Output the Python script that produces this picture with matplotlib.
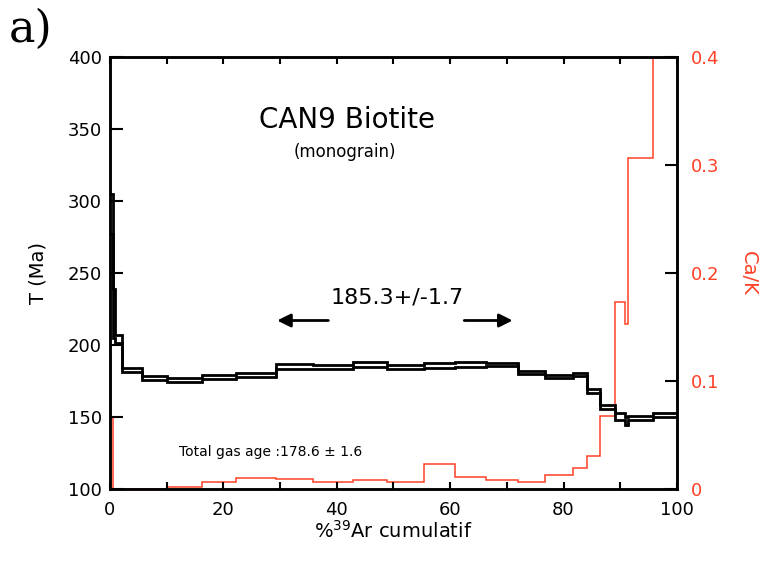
import matplotlib
matplotlib.use('Agg')
import matplotlib.pyplot as plt
import numpy as np

# Step boundaries (% 39Ar cumulative)
edges = [0, 0.5, 0.9, 2.2, 5.6, 10.0, 16.2, 22.3, 29.3, 35.8, 42.8, 48.8, 55.3,
         60.8, 66.4, 72.0, 76.7, 81.6, 84.2, 86.4, 89.1, 90.8, 91.4, 95.8, 100]
# Apparent ages (Ma) and 1-sigma errors for each step
ages = [291, 222, 204, 182.8, 177.1, 175.5, 177.7, 179.2, 185.2, 184.6, 186.5, 184.8,
        185.6, 186.6, 186.3, 180.6, 178.3, 179.8, 167.8, 156.8, 150.2, 147.1, 149.3, 151.4]
errors = [14, 17, 2.9, 1.4, 1.4, 1.4, 1.5, 1.6, 1.6, 1.5, 1.5, 1.5,
          1.6, 1.6, 1.0, 1.0, 1.0, 1.0, 1.4, 1.5, 2.3, 2.7, 1.4, 1.6]
# Ca/K ratio per step
ca_k = [0.0664, 0, 0, 0, 0, 0.002, 0.0062, 0.0099, 0.009, 0.0062, 0.0086, 0.0068,
        0.0235, 0.0108, 0.0083, 0.0065, 0.013, 0.019, 0.031, 0.0676, 0.173, 0.153, 0.306, 0.5]

plateau_text = '185.3+/-1.7'
total_gas_text = 'Total gas age :178.6 ± 1.6'

plt.rcParams['font.family'] = 'DejaVu Sans'
red = '#ff4024'

fig = plt.figure(figsize=(7.59, 5.64), dpi=100)
ax = fig.add_axes([0.1449, 0.133, 0.747, 0.766])
ax2 = ax.twinx()

ages = np.array(ages)
errors = np.array(errors)
ax.stairs(ages + errors, edges, baseline=None, color='black', lw=2.0, zorder=3)
ax.stairs(ages - errors, edges, baseline=None, color='black', lw=2.0, zorder=3)
ax.set_zorder(ax2.get_zorder() + 1)
ax.patch.set_visible(False)

ax2.stairs(ca_k, edges, baseline=None, color=red, lw=1.1)

ax.set_xlim(0, 100)
ax.set_ylim(100, 400)
ax2.set_ylim(0, 0.4)

ax.set_xticks(np.arange(0, 101, 20))
ax.set_xticks(np.arange(0, 101, 10), minor=True)
ax.set_yticks(np.arange(100, 401, 50))
ax2.set_yticks([0, 0.1, 0.2, 0.3, 0.4])
ax2.set_yticklabels(['0', '0.1', '0.2', '0.3', '0.4'])

ax.tick_params(axis='x', which='both', direction='in', length=5, width=1.5,
               top=True, labelsize=13, pad=9)
ax.tick_params(axis='y', direction='in', length=9, width=1.5, labelsize=13, pad=6)
ax2.tick_params(axis='y', direction='in', length=9, width=1.5, labelsize=13,
                labelcolor=red, pad=10)
for a in (ax, ax2):
    for s in a.spines.values():
        s.set_linewidth(1.8)

ax.set_xlabel('%$^{39}$Ar cumulatif', fontsize=14, labelpad=0)
ax.set_ylabel('T (Ma)', fontsize=14, labelpad=14)
ax2.set_ylabel('Ca/K', fontsize=14, color=red, rotation=270, labelpad=28)

ax.text(41.8, 356, 'CAN9 Biotite', fontsize=20, ha='center', va='center')
ax.text(41.4, 334, '(monograin)', fontsize=12, ha='center', va='center')
ax.text(50.6, 233, plateau_text, fontsize=16, ha='center', va='center')
ax.annotate('', xy=(29.0, 217), xytext=(39.0, 217),
            arrowprops=dict(arrowstyle='-|>', color='black', lw=2, mutation_scale=20))
ax.annotate('', xy=(71.5, 217), xytext=(62.0, 217),
            arrowprops=dict(arrowstyle='-|>', color='black', lw=2, mutation_scale=20))
ax.text(12.2, 126, total_gas_text, fontsize=10, ha='left', va='center')

fig.text(0.012, 0.925, 'a)', fontsize=32, family='DejaVu Serif', ha='left', va='baseline')

fig.savefig('out.png', dpi=100)
